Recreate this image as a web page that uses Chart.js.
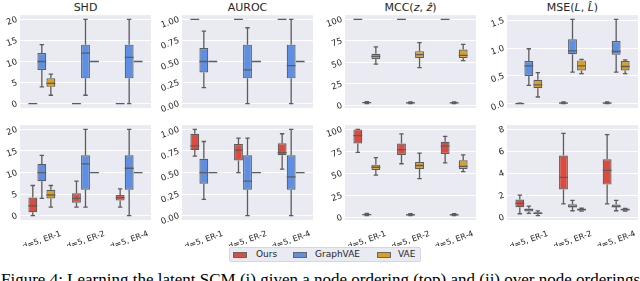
<!DOCTYPE html>
<html>
<head>
<meta charset="utf-8">
<script src="https://cdn.jsdelivr.net/npm/chart.js@4.4.0/dist/chart.umd.min.js"></script>
<style>
  body { margin: 0; width: 640px; height: 281px; overflow: hidden; background: #fff;
         position: relative; font-family: 'DejaVu Sans', sans-serif; }
  canvas { position: absolute; }
  .title { position: absolute; width: 131px; text-align: center; font-size: 11px;
           line-height: 14px; color: #262626; white-space: nowrap; }
  #legend { position: absolute; left: 229px; top: 247px; width: 190px; height: 13px;
            background: #eaeaf2; border: 1px solid #d6d6de; border-radius: 2px;
            font-size: 9px; line-height: 13px; color: #262626; }
  #legend span { position: absolute; top: 0; }
  #legend i { position: absolute; top: 4px; width: 12px; height: 4px; border: 1px solid #666; }
  #caption { position: absolute; left: 1px; top: 271px; font-family: 'Liberation Serif', serif;
             font-size: 17px; line-height: 17px; white-space: nowrap; color: #000; }
</style>
</head>
<body>
<div id="titles"></div>
<div id="legend"></div>
<div id="caption">Figure 4: Learning the latent SCM (i) given a node ordering (top) and (ii) over node orderings</div>
<script>
/* ── Data: five-number summaries [min, q1, median, q3, max] per category ── */

const CATEGORIES = ['d=5, ER-1', 'd=5, ER-2', 'd=5, ER-4'];
const SERIES = ['Ours', 'GraphVAE', 'VAE'];
const COLORS = ['#dc4c3e', '#5d8fe4', '#dca01f'];

const SHD_OURS_TOP = [[0, 0, 0, 0, 0], [0, 0, 0, 0, 0], [0, 0, 0, 0, 0]];
const SHD_OURS_BOTTOM = [[0, 0.8, 2.3, 4.2, 7], [2, 3, 4, 5.2, 8], [2, 3.5, 4.2, 4.8, 6.2]];
const SHD_GRAPHVAE = [[4, 8, 10, 12, 14], [2, 6, 12, 14, 20], [0, 6, 11, 14, 20]];
const SHD_VAE = [[2, 4, 4.8, 6, 7], [10, 10, 10, 10, 10], [10, 10, 10, 10, 10]];

const AUROC_OURS_TOP = [[1, 1, 1, 1, 1], [1, 1, 1, 1, 1], [1, 1, 1, 1, 1]];
const AUROC_OURS_BOTTOM = [[0.69, 0.76, 0.81, 0.95, 1], [0.5, 0.64, 0.76, 0.83, 0.9], [0.54, 0.7, 0.73, 0.84, 0.95]];
const AUROC_GRAPHVAE = [[0.19, 0.37, 0.5, 0.66, 0.86], [0, 0.3, 0.4, 0.7, 0.9], [0, 0.3, 0.45, 0.7, 1]];
const AUROC_VAE = [[0.5, 0.5, 0.5, 0.5, 0.5], [0.5, 0.5, 0.5, 0.5, 0.5], [0.5, 0.5, 0.5, 0.5, 0.5]];

const MCC_OURS_TOP = [[100, 100, 100, 100, 100], [100, 100, 100, 100, 100], [100, 100, 100, 100, 100]];
const MCC_OURS_BOTTOM = [[74, 84, 93, 100, 100], [61, 71, 77, 84, 95], [62, 72, 81, 86, 92]];
const MCC_GRAPHVAE = [[2, 2.8, 3.2, 3.8, 4.5], [2, 2.6, 3, 3.5, 4.2], [2, 2.6, 3, 3.5, 4.2]];
const MCC_VAE = [[48, 54, 57, 60, 68], [44, 55, 59, 63, 73], [52, 55, 58, 65, 71]];

const MSE_OURS_TOP = [[0, 0, 0, 0.005, 0.01], [0, 0.005, 0.01, 0.02, 0.03], [0, 0.005, 0.01, 0.02, 0.03]];
const MSE_OURS_BOTTOM = [[0.3, 0.9, 1.25, 1.6, 2], [1.2, 2.5, 3.6, 5.6, 7.6], [1.2, 2.95, 4.25, 5.25, 7.5]];
const MSE_GRAPHVAE = [[0.33, 0.5, 0.68, 0.77, 0.99], [0.57, 0.89, 0.95, 1.16, 1.52], [0.57, 0.88, 0.94, 1.13, 1.52]];
const MSE_VAE = [[0.12, 0.28, 0.34, 0.43, 0.56], [0.54, 0.6, 0.68, 0.78, 0.8], [0.54, 0.6, 0.67, 0.77, 0.79]];

const SHD_TICKS = [0, 5, 10, 15, 20];
const AUROC_TICKS = [0, 0.25, 0.5, 0.75, 1];
const MCC_TICKS = [0, 25, 50, 75, 100];
const MSE_TOP_TICKS = [0, 0.5, 1, 1.5];
const MSE_BOTTOM_TICKS = [0, 2, 4, 6, 8];

/* ── Panel layout ──────────────────────────────────────────────── */
const PLOT_LEFT = [20, 182, 345, 507];
const PLOT_TOP = [15, 125];
const PLOT_W = 131, PLOT_H = 95;
const YW = 22, PT = 8, PR = 4, PB = 6, XH = 26;
const LINE = '#5c5c5c';

const PANELS = [
  { title: 'SHD', row: 0, col: 0, stats: [SHD_OURS_TOP, SHD_GRAPHVAE, SHD_VAE], ticks: SHD_TICKS, range: [-1, 21], fmt: v => v.toFixed(0) },
  { title: 'AUROC', row: 0, col: 1, stats: [AUROC_OURS_TOP, AUROC_GRAPHVAE, AUROC_VAE], ticks: AUROC_TICKS, range: [-0.05, 1.05], fmt: v => v.toFixed(2) },
  { title: 'MCC(<i>z</i>, <i>ẑ</i>)', row: 0, col: 2, stats: [MCC_OURS_TOP, MCC_GRAPHVAE, MCC_VAE], ticks: MCC_TICKS, range: [-2.9, 104.9], fmt: v => v.toFixed(0) },
  { title: 'MSE(<i>L</i>, <i>L̂</i>)', row: 0, col: 3, stats: [MSE_OURS_TOP, MSE_GRAPHVAE, MSE_VAE], ticks: MSE_TOP_TICKS, range: [-0.076, 1.596], fmt: v => v.toFixed(1) },
  { row: 1, col: 0, stats: [SHD_OURS_BOTTOM, SHD_GRAPHVAE, SHD_VAE], ticks: SHD_TICKS, range: [-1, 21], fmt: v => v.toFixed(0) },
  { row: 1, col: 1, stats: [AUROC_OURS_BOTTOM, AUROC_GRAPHVAE, AUROC_VAE], ticks: AUROC_TICKS, range: [-0.05, 1.05], fmt: v => v.toFixed(2) },
  { row: 1, col: 2, stats: [MCC_OURS_BOTTOM, MCC_GRAPHVAE, MCC_VAE], ticks: MCC_TICKS, range: [-2.9, 104.9], fmt: v => v.toFixed(0) },
  { row: 1, col: 3, stats: [MSE_OURS_BOTTOM, MSE_GRAPHVAE, MSE_VAE], ticks: MSE_BOTTOM_TICKS, range: [-0.27, 8.36], fmt: v => v.toFixed(0) },
];

/* ── Plugins: plot background + whiskers / medians ────────────── */
const bgPlugin = {
  id: 'bg',
  beforeDraw(chart) {
    const { ctx, chartArea: a } = chart;
    ctx.save();
    ctx.fillStyle = '#eaeaf2';
    ctx.fillRect(a.left, a.top, a.right - a.left, a.bottom - a.top);
    ctx.restore();
  },
};

const boxPlugin = {
  id: 'boxes',
  afterDatasetsDraw(chart) {
    const ctx = chart.ctx, y = chart.scales.y;
    ctx.save();
    ctx.strokeStyle = LINE;
    ctx.lineWidth = 1.3;
    chart.data.datasets.forEach((ds, i) => {
      chart.getDatasetMeta(i).data.forEach((bar, j) => {
        const [mn, q1, med, q3, mx] = ds.stats[j].map(v => y.getPixelForValue(v));
        const x = bar.x, w = bar.width, c = w / 4;
        ctx.beginPath();
        ctx.moveTo(x, mn); ctx.lineTo(x, q1);
        ctx.moveTo(x, q3); ctx.lineTo(x, mx);
        ctx.moveTo(x - c, mn); ctx.lineTo(x + c, mn);
        ctx.moveTo(x - c, mx); ctx.lineTo(x + c, mx);
        ctx.moveTo(x - w / 2, med); ctx.lineTo(x + w / 2, med);
        ctx.stroke();
      });
    });
    ctx.restore();
  },
};

/* ── Build the panels ─────────────────────────────────────────── */
function renderPanel(p) {
  const bottom = p.row === 1;
  const canvas = document.createElement('canvas');
  const w = YW + PLOT_W + PR;
  const h = PT + PLOT_H + (bottom ? XH + PB : PB);
  canvas.width = w; canvas.height = h;
  canvas.style.left = (PLOT_LEFT[p.col] - YW) + 'px';
  canvas.style.top = (PLOT_TOP[p.row] - PT) + 'px';
  document.body.appendChild(canvas);

  if (p.title) {
    const t = document.createElement('div');
    t.className = 'title';
    t.innerHTML = p.title;
    t.style.left = PLOT_LEFT[p.col] + 'px';
    t.style.top = '1px';
    document.getElementById('titles').appendChild(t);
  }

  new Chart(canvas, {
    type: 'bar',
    data: {
      labels: CATEGORIES,
      datasets: SERIES.map((name, i) => ({
        label: name,
        stats: p.stats[i],
        data: p.stats[i].map(s => [s[1], s[3]]),
        backgroundColor: COLORS[i],
        borderColor: LINE,
        borderWidth: 1.2,
        borderSkipped: false,
        categoryPercentage: 0.62,
        barPercentage: 0.98,
      })),
    },
    options: {
      responsive: false,
      animation: false,
      layout: { padding: { top: PT, right: PR, bottom: PB, left: 0 } },
      plugins: { legend: { display: false }, tooltip: { enabled: false } },
      scales: {
        x: {
          grid: { display: false },
          border: { display: false },
          ticks: {
            display: bottom, minRotation: 20, maxRotation: 20, labelOffset: 19,
            padding: 1, color: '#262626', font: { family: 'DejaVu Sans', size: 8 },
          },
          afterFit: s => { s.height = bottom ? XH : 0; },
        },
        y: {
          min: p.range[0],
          max: p.range[1],
          afterBuildTicks: s => { s.ticks = p.ticks.map(v => ({ value: v })); },
          afterFit: s => { s.width = YW; },
          grid: { color: '#ffffff', lineWidth: 1, drawTicks: false },
          border: { display: false },
          ticks: {
            minRotation: 20, maxRotation: 20, padding: 3,
            color: '#262626', font: { family: 'DejaVu Sans', size: 8.5 },
            callback: v => p.fmt(v),
          },
        },
      },
    },
    plugins: [bgPlugin, boxPlugin],
  });
}

/* ── Legend ───────────────────────────────────────────────────── */
function renderLegend() {
  const pos = [[3, 26], [63, 85], [147, 168]];
  document.getElementById('legend').innerHTML = SERIES.map((name, i) =>
    `<i style="left:${pos[i][0]}px;background:${COLORS[i]}"></i><span style="left:${pos[i][1]}px">${name}</span>`
  ).join('');
}

PANELS.forEach(renderPanel);
renderLegend();
</script>
</body>
</html>
